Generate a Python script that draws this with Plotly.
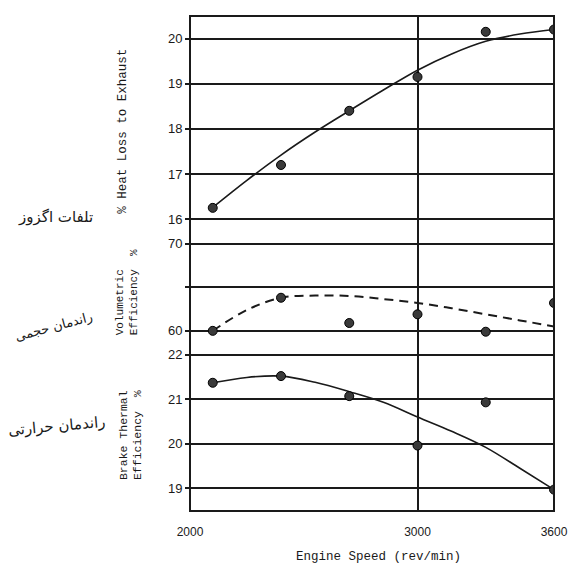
import plotly.graph_objects as go

# ---- data ----
speed = [2100, 2400, 2700, 3000, 3300, 3600]
heat_loss = [16.25, 17.2, 18.4, 19.15, 20.15, 20.2]
vol_eff = [60.0, 63.8, 60.9, 61.9, 59.9, 63.2]
brake_eff = [21.37, 21.52, 21.07, 19.96, 20.93, 18.97]

curve_speed = [2100, 2250, 2400, 2550, 2700, 2850, 3000, 3150, 3300, 3450, 3600]
heat_curve = [16.26, 16.86, 17.42, 17.93, 18.4, 18.86, 19.3, 19.66, 19.94, 20.1, 20.2]
vol_curve = [60.0, 62.4, 63.8, 64.05, 64.0, 63.65, 63.2, 62.6, 61.9, 61.2, 60.5]
brake_curve = [21.37, 21.49, 21.52, 21.38, 21.17, 20.93, 20.6, 20.28, 19.92, 19.45, 18.97]

x_ticks = [2000, 3000, 3600]
heat_ticks = [16, 17, 18, 19, 20]
vol_ticks = [60, 65, 70]
vol_ticktext = ["60", "", "70"]
brake_ticks = [19, 20, 21, 22]

x_title = "Engine Speed (rev/min)"
heat_title = "% Heat Loss to Exhaust"
vol_title = "Volumetric<br>Efficiency  %"
brake_title = "Brake Thermal<br>Efficiency  %"
fa_heat = "تلفات اگزوز"
fa_vol = "راندمان حجمی"
fa_brake = "راندمان حرارتی"

INK = "#1a1a1a"
mono = "Liberation Mono, DejaVu Sans Mono, monospace"
sans = "Liberation Sans, Arial, sans-serif"

fig = go.Figure()

marker = dict(symbol="circle", size=9, color="#3a3a3a", line=dict(color="#000", width=1))

# top panel
fig.add_trace(go.Scatter(x=curve_speed, y=heat_curve, mode="lines", line=dict(color=INK, width=1.6, shape="spline"),
                         xaxis="x", yaxis="y", showlegend=False))
fig.add_trace(go.Scatter(x=speed, y=heat_loss, mode="markers", marker=marker, xaxis="x", yaxis="y", showlegend=False))
# middle panel
fig.add_trace(go.Scatter(x=curve_speed, y=vol_curve, mode="lines",
                         line=dict(color=INK, width=2, dash="9px,6px", shape="spline"),
                         xaxis="x2", yaxis="y2", showlegend=False))
fig.add_trace(go.Scatter(x=speed, y=vol_eff, mode="markers", marker=marker, xaxis="x2", yaxis="y2", showlegend=False))
# bottom panel
fig.add_trace(go.Scatter(x=curve_speed, y=brake_curve, mode="lines", line=dict(color=INK, width=1.6, shape="spline"),
                         xaxis="x3", yaxis="y3", showlegend=False))
fig.add_trace(go.Scatter(x=speed, y=brake_eff, mode="markers", marker=marker, xaxis="x3", yaxis="y3", showlegend=False))

common_x = dict(range=[2000, 3600], tickvals=x_ticks, showgrid=True, gridcolor=INK, gridwidth=1.5,
                zeroline=False, showline=False)
common_y = dict(showgrid=True, gridcolor=INK, gridwidth=1.8, zeroline=False, showline=False,
                ticks="outside", ticklen=4, tickcolor=INK, tickwidth=1.5,
                tickfont=dict(family=sans, size=13, color=INK))

fig.update_layout(
    width=563, height=560,
    margin=dict(l=182, r=15, t=3, b=57),
    paper_bgcolor="white", plot_bgcolor="white",
    xaxis=dict(common_x, domain=[0, 1], anchor="y", showticklabels=False),
    xaxis2=dict(common_x, domain=[0, 1], anchor="y2", showticklabels=False, matches="x"),
    xaxis3=dict(common_x, domain=[0, 1], anchor="y3", showticklabels=True, matches="x",
                tickfont=dict(family=sans, size=12, color=INK), ticklabelstandoff=12),
    yaxis=dict(common_y, domain=[0.544, 1.0], range=[15.5, 20.5], tickvals=heat_ticks, anchor="x"),
    yaxis2=dict(common_y, domain=[0.34, 0.544], range=[58.64, 70.23], tickvals=vol_ticks,
                ticktext=vol_ticktext, anchor="x2"),
    yaxis3=dict(common_y, domain=[0.0, 0.34], range=[18.49, 22.27], tickvals=brake_ticks, anchor="x3"),
    shapes=[dict(type="rect", xref="paper", yref="paper", x0=0, x1=1, y0=0, y1=1,
                 line=dict(color=INK, width=2))],
)

annos = [
    dict(text=x_title, x=0.519, y=-0.092, font=dict(family=mono, size=12.5, color=INK)),
    dict(text=heat_title, x=-0.183, y=0.767, textangle=-90, font=dict(family=mono, size=12.5, color=INK)),
    dict(text=vol_title, x=-0.173, y=0.442, textangle=-90, align="left",
         font=dict(family=mono, size=11, color=INK)),
    dict(text=brake_title, x=-0.164, y=0.154, textangle=-90, align="left",
         font=dict(family=mono, size=11.5, color=INK)),
    dict(text=fa_heat, x=-0.369, y=0.594, font=dict(family="DejaVu Sans", size=15, color=INK)),
    dict(text=fa_vol, x=-0.375, y=0.372, textangle=-15, font=dict(family="DejaVu Sans", size=13, color=INK)),
    dict(text=fa_brake, x=-0.366, y=0.172, textangle=-5, font=dict(family="DejaVu Sans", size=15, color=INK)),
]
for a in annos:
    fig.add_annotation(xref="paper", yref="paper", showarrow=False, xanchor="center", yanchor="middle", **a)

fig.write_html("out.html")
